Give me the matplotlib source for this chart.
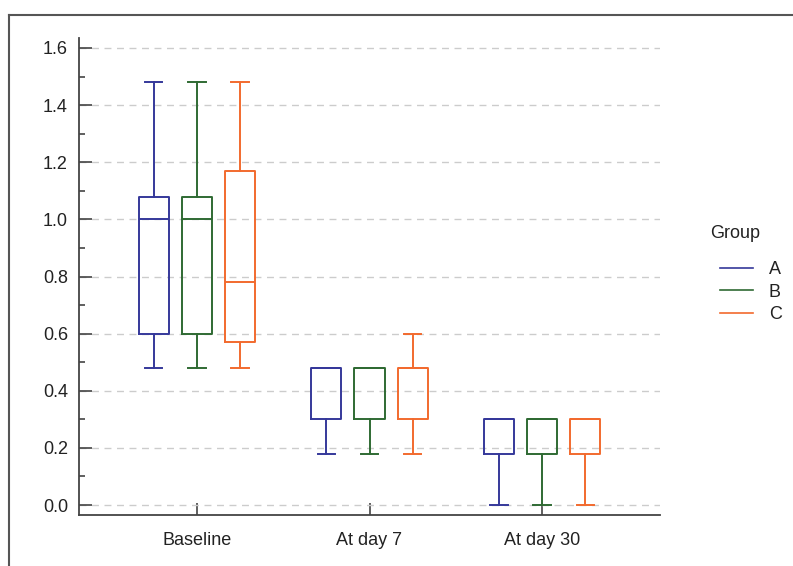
import matplotlib
matplotlib.use("Agg")
import matplotlib.pyplot as plt
from matplotlib.lines import Line2D

plt.rcParams["font.family"] = ["Liberation Sans", "DejaVu Sans"]

timepoints = ["Baseline", "At day 7", "At day 30"]
groups = ["A", "B", "C"]
colors = ["#35389a", "#2f6a33", "#f26a2e"]

# per group, per timepoint: (whislo, q1, med, q3, whishi)
stats = {
    "A": [(0.48, 0.60, 1.00, 1.08, 1.48), (0.18, 0.30, 0.48, 0.48, 0.48), (0.00, 0.18, 0.30, 0.30, 0.30)],
    "B": [(0.48, 0.60, 1.00, 1.08, 1.48), (0.18, 0.30, 0.48, 0.48, 0.48), (0.00, 0.18, 0.30, 0.30, 0.30)],
    "C": [(0.48, 0.57, 0.78, 1.17, 1.48), (0.18, 0.30, 0.48, 0.48, 0.60), (0.00, 0.18, 0.30, 0.30, 0.30)],
}

fig = plt.figure(figsize=(7.93, 5.66), dpi=100)
ax = fig.add_axes([79 / 793, 1 - 515 / 566, (660 - 79) / 793, (515 - 38) / 566])

offsets = [-0.25, 0.0, 0.25]
for g, col, off in zip(groups, colors, offsets):
    bxs = []
    for s in stats[g]:
        lo, q1, med, q3, hi = s
        bxs.append(dict(whislo=lo, q1=q1, med=med, q3=q3, whishi=hi, fliers=[]))
    pos = [i + off for i in range(len(timepoints))]
    lp = dict(color=col, linewidth=1.4)
    ax.bxp(bxs, positions=pos, widths=0.175, showfliers=False,
           boxprops=lp, whiskerprops=lp, capprops=lp, medianprops=lp,
           capwidths=0.1, manage_ticks=False)

ax.set_xlim(-0.684, 2.684)
ax.set_ylim(-0.035, 1.635)
ax.set_xticks(range(len(timepoints)))
ax.set_xticklabels(timepoints)
ax.set_yticks([0.0, 0.2, 0.4, 0.6, 0.8, 1.0, 1.2, 1.4, 1.6])
ax.set_yticklabels([f"{v:.1f}" for v in ax.get_yticks()])
ax.set_yticks([0.1, 0.3, 0.5, 0.7, 0.9, 1.1, 1.3, 1.5], minor=True)
ax.tick_params(axis="both", direction="in", length=9, width=1.2, colors="#444444",
               labelcolor="#222222", labelsize=13, pad=8)
ax.tick_params(axis="y", which="minor", direction="in", length=4, width=1.2, colors="#444444")
ax.tick_params(axis="x", pad=12)
ax.grid(axis="y", linestyle=(0, (5, 4)), color="#cccccc", linewidth=1.0)
ax.set_axisbelow(True)
for side in ["top", "right"]:
    ax.spines[side].set_visible(False)
for side in ["left", "bottom"]:
    ax.spines[side].set_color("#444444")
    ax.spines[side].set_linewidth(1.3)

fig.text(710 / 793, 1 - 233 / 566, "Group", fontsize=13, color="#222222", va="center", ha="left")
handles = [Line2D([], [], color=c, linewidth=1.2) for c in colors]
leg = fig.legend(handles, groups, loc="upper left",
                 bbox_to_anchor=(704 / 793, 1 - 245 / 566), frameon=False,
                 fontsize=13, handlelength=1.8, handletextpad=0.9, labelspacing=0.3)
for t in leg.get_texts():
    t.set_color("#222222")

# figure border (top and left)
fig.add_artist(Line2D([9 / 793, 1], [1 - 15 / 566] * 2, color="#555555", linewidth=1.5))
fig.add_artist(Line2D([9 / 793] * 2, [0, 1 - 15 / 566], color="#555555", linewidth=1.5))

fig.savefig("out.png", dpi=100)
